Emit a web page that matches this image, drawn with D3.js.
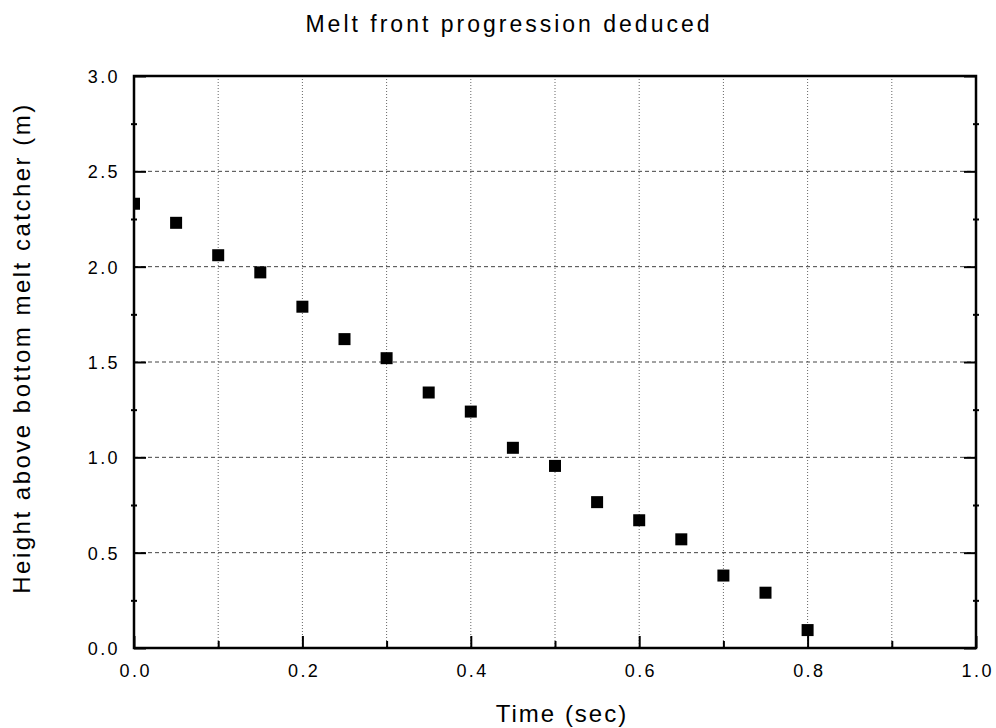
<!DOCTYPE html>
<html>
<head>
<meta charset="utf-8">
<script src="https://cdn.jsdelivr.net/npm/d3@7"></script>
<style>
  body { margin: 0; background: #fff; }
  text { font-family: "Liberation Sans", Arial, sans-serif; fill: #000; }
</style>
</head>
<body>
<svg id="chart"></svg>
<script>
// data
const times = [0, 0.05, 0.1, 0.15, 0.2, 0.25, 0.3, 0.35, 0.4, 0.45, 0.5, 0.55, 0.6, 0.65, 0.7, 0.75, 0.8];
const heights = [2.33, 2.23, 2.06, 1.97, 1.79, 1.62, 1.52, 1.34, 1.24, 1.05, 0.955, 0.765, 0.67, 0.57, 0.38, 0.29, 0.094];
const xTicks = [0, 0.2, 0.4, 0.6, 0.8, 1.0];
const xMinor = [0.1, 0.3, 0.5, 0.7, 0.9];
const yTicks = [0, 0.5, 1.0, 1.5, 2.0, 2.5, 3.0];
const yMinor = [0.25, 0.75, 1.25, 1.75, 2.25, 2.75];

const W = 996, H = 728;
const margin = {top: 76, right: 20, bottom: 80, left: 134};
const width = W - margin.left - margin.right;
const height = H - margin.top - margin.bottom;

const svg = d3.select('#chart').attr('width', W).attr('height', H);
const chart = svg.append('g').attr('transform', `translate(${margin.left},${margin.top})`);

const x = d3.scaleLinear().domain([0, 1]).range([0, width]);
const y = d3.scaleLinear().domain([0, 3]).range([height, 0]);

// gridlines
chart.append('g').selectAll('line')
    .data(xTicks.concat(xMinor).filter(d => d > 0 && d < 1))
  .join('line')
    .attr('x1', d => x(d)).attr('x2', d => x(d))
    .attr('y1', 0).attr('y2', height)
    .attr('stroke', '#666').attr('stroke-width', 1)
    .attr('stroke-dasharray', '1,2');

chart.append('g').selectAll('line')
    .data(yTicks.filter(d => d > 0 && d < 3))
  .join('line')
    .attr('x1', 0).attr('x2', width)
    .attr('y1', d => y(d)).attr('y2', d => y(d))
    .attr('stroke', '#444').attr('stroke-width', 1)
    .attr('stroke-dasharray', '4,3');

// axes with inward ticks
const xAxis = chart.append('g').attr('transform', `translate(0,${height})`)
    .call(d3.axisBottom(x).tickValues(xTicks).tickFormat(d3.format('.1f'))
      .tickSize(-12).tickPadding(0));
xAxis.selectAll('text')
    .attr('y', 29).attr('dy', null).attr('dx', 1.2)
    .style('font-size', '18px').style('letter-spacing', '2.4px');

chart.append('g').attr('transform', `translate(0,${height})`)
    .call(d3.axisBottom(x).tickValues(xMinor).tickFormat('').tickSize(-7));

const yAxis = chart.append('g')
    .call(d3.axisLeft(y).tickValues(yTicks).tickFormat(d3.format('.1f'))
      .tickSize(-12).tickPadding(0));
yAxis.selectAll('text')
    .attr('x', -14).attr('dy', '0.36em')
    .style('font-size', '18px').style('letter-spacing', '2.4px');

chart.append('g')
    .call(d3.axisLeft(y).tickValues(yMinor).tickFormat('').tickSizeOuter(0))
    .call(g => g.selectAll('.tick line').attr('x2', 3).attr('x1', -3));

chart.append('g').attr('transform', `translate(${width},0)`)
    .call(d3.axisRight(y).tickValues(yTicks).tickFormat('').tickSize(-12));
chart.append('g').attr('transform', `translate(${width},0)`)
    .call(d3.axisRight(y).tickValues(yMinor).tickFormat('').tickSizeOuter(0))
    .call(g => g.selectAll('.tick line').attr('x2', 3).attr('x1', -3));

chart.selectAll('.domain').remove();
chart.selectAll('.tick line').attr('stroke', '#000').attr('stroke-width', 2);

// clip + points
svg.append('clipPath').attr('id', 'clip')
  .append('rect').attr('width', width).attr('height', height);

const pts = times.map((t, i) => ({t, h: heights[i]}));
chart.append('g').attr('clip-path', 'url(#clip)')
  .selectAll('rect')
    .data(pts)
  .join('rect')
    .attr('x', d => x(d.t) - 6)
    .attr('y', d => y(d.h) - 6)
    .attr('width', 12).attr('height', 12)
    .attr('fill', '#000');

// frame
chart.append('rect')
    .attr('width', width).attr('height', height)
    .attr('fill', 'none').attr('stroke', '#000').attr('stroke-width', 2.5);

// titles
svg.append('text')
    .attr('x', 509).attr('y', 32)
    .attr('text-anchor', 'middle')
    .style('font-size', '23px').style('letter-spacing', '3px')
    .text('Melt front progression deduced');

svg.append('text')
    .attr('x', 562).attr('y', 722)
    .attr('text-anchor', 'middle')
    .style('font-size', '24px').style('letter-spacing', '2px')
    .text('Time (sec)');

svg.append('text')
    .attr('transform', 'translate(30,348) rotate(-90)')
    .attr('text-anchor', 'middle')
    .style('font-size', '24px').style('letter-spacing', '2.5px')
    .text('Height above bottom melt catcher (m)');
</script>
</body>
</html>
